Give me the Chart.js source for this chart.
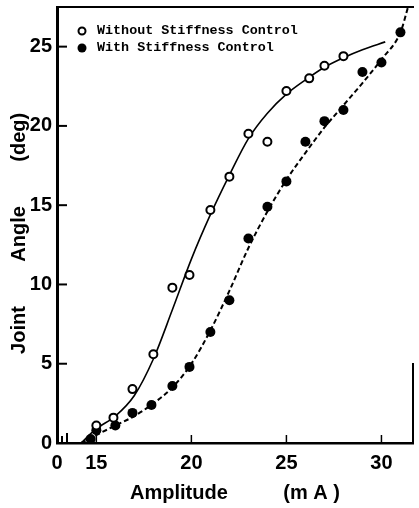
<!DOCTYPE html>
<html>
<head>
<meta charset="utf-8">
<script src="https://cdn.jsdelivr.net/npm/chart.js@4/dist/chart.umd.min.js"></script>
<style>
  body { margin: 0; background: #fff; }
  canvas { display: block; }
</style>
</head>
<body>
<canvas id="chart" width="419" height="508"></canvas>
<script>
const withoutX = [15, 15.9, 16.9, 18, 19, 19.9, 21, 22, 23, 24, 25, 26.2, 27, 28];
const withoutY = [1.1, 1.6, 3.4, 5.6, 9.8, 10.6, 14.7, 16.8, 19.5, 19.0, 22.2, 23.0, 23.8, 24.4];

const withX = [14.7, 15, 16, 16.9, 17.9, 19, 19.9, 21, 22, 23, 24, 25, 26, 27, 28, 29, 30, 31];
const withY = [0.25, 0.8, 1.1, 1.9, 2.4, 3.6, 4.8, 7.0, 9.0, 12.9, 14.9, 16.5, 19.0, 20.3, 21.0, 23.4, 24.0, 25.9];

// fitted curves as drawn on the figure
const fitWithoutX = [14.2, 15, 16, 17, 18, 19, 20, 21, 22, 23, 24, 25, 26, 27, 28, 29, 30.2];
const fitWithoutY = [0, 0.9, 1.7, 3.0, 5.3, 8.4, 11.6, 14.4, 16.9, 19.2, 20.8, 22.0, 22.9, 23.7, 24.3, 24.8, 25.3];

const fitWithX = [14.2, 15, 16, 17, 18, 19, 20, 21, 22, 23, 24, 25, 26, 27, 28, 29, 30, 31, 31.4];
const fitWithY = [0, 0.5, 1.1, 1.7, 2.5, 3.5, 5.0, 7.1, 9.6, 12.3, 14.6, 16.6, 18.3, 19.9, 21.3, 22.7, 24.2, 25.9, 27.5];

const legendLabels = ['Without Stiffness Control', 'With Stiffness Control'];
const xMin = 12.93, xMax = 31.66;
const xTicks = [15, 20, 25, 30];
const yMin = 0, yMax = 27.5;

const toPoints = (xs, ys) => xs.map((x, i) => ({ x: x, y: ys[i] }));

const tickFont = { family: 'Liberation Sans', size: 20, weight: 'bold' };
const titleFont = { family: 'Liberation Sans', size: 20, weight: 'bold' };

// inward tick marks, top frame, partial right frame, axis break, legend
const framePlugin = {
  id: 'frame',
  afterDraw(chart) {
    const ctx = chart.ctx;
    const { left, right, top, bottom } = chart.chartArea;
    const xs = chart.scales.x, ys = chart.scales.y;
    ctx.save();
    ctx.strokeStyle = '#000';
    ctx.lineWidth = 2;
    ys.ticks.forEach(t => {
      if (t.value === yMin) return;
      const py = ys.getPixelForValue(t.value);
      ctx.beginPath();
      ctx.moveTo(left, py);
      ctx.lineTo(left + 10, py);
      ctx.stroke();
    });
    ctx.lineWidth = 1.5;
    xTicks.forEach(v => {
      const px = xs.getPixelForValue(v);
      ctx.beginPath();
      ctx.moveTo(px, bottom);
      ctx.lineTo(px, bottom - 8);
      ctx.stroke();
    });
    // top frame
    ctx.lineWidth = 2;
    ctx.beginPath();
    ctx.moveTo(left, top);
    ctx.lineTo(right + 1, top);
    ctx.stroke();
    // partial right frame
    ctx.beginPath();
    ctx.moveTo(right, ys.getPixelForValue(5.05));
    ctx.lineTo(right, bottom);
    ctx.stroke();
    // axis break marks
    [5, 10].forEach((dx, i) => {
      ctx.beginPath();
      ctx.moveTo(left + dx, bottom - 7 - i * 3);
      ctx.lineTo(left + dx, bottom + 1);
      ctx.stroke();
    });

    // legend
    ctx.font = 'bold 13.4px "Liberation Mono"';
    ctx.textBaseline = 'middle';
    ctx.fillStyle = '#000';
    const lx = left + 25;
    const rows = [top + 24, top + 41];
    ctx.beginPath();
    ctx.arc(lx, rows[0], 3.5, 0, Math.PI * 2);
    ctx.lineWidth = 2;
    ctx.stroke();
    ctx.beginPath();
    ctx.arc(lx, rows[1], 4.5, 0, Math.PI * 2);
    ctx.fill();
    ctx.fillText(legendLabels[0], lx + 15, rows[0]);
    ctx.fillText(legendLabels[1], lx + 15, rows[1]);
    ctx.restore();
  }
};

new Chart(document.getElementById('chart'), {
  type: 'scatter',
  data: {
    datasets: [
      {
        label: legendLabels[0],
        data: toPoints(withoutX, withoutY),
        pointRadius: 4,
        pointBackgroundColor: '#fff',
        pointBorderColor: '#000',
        pointBorderWidth: 2,
        showLine: false,
        order: 0
      },
      {
        label: legendLabels[1],
        data: toPoints(withX, withY),
        pointRadius: 5,
        pointBackgroundColor: '#000',
        pointBorderColor: '#000',
        pointBorderWidth: 0,
        showLine: false,
        order: 0
      },
      {
        label: 'fit without',
        data: toPoints(fitWithoutX, fitWithoutY),
        showLine: true,
        pointRadius: 0,
        borderColor: '#000',
        borderWidth: 1.6,
        cubicInterpolationMode: 'monotone',
        order: 1
      },
      {
        label: 'fit with',
        data: toPoints(fitWithX, fitWithY),
        showLine: true,
        pointRadius: 0,
        borderColor: '#000',
        borderWidth: 2,
        borderDash: [5, 3],
        cubicInterpolationMode: 'monotone',
        order: 1
      }
    ]
  },
  options: {
    responsive: false,
    animation: false,
    layout: { padding: { top: 7, right: 1, left: 0, bottom: 0 } },
    plugins: {
      legend: { display: false },
      tooltip: { enabled: false }
    },
    scales: {
      x: {
        type: 'linear',
        min: xMin,
        max: xMax,
        afterBuildTicks: (scale) => {
          scale.ticks = [xMin, ...xTicks].map(v => ({ value: v }));
        },
        afterFit: (scale) => {
          scale.height = 65;
          scale.paddingLeft = 0;
          scale.paddingRight = 0;
        },
        grid: { display: false, drawTicks: false },
        border: { display: true, color: '#000', width: 2.5 },
        ticks: {
          color: '#000',
          font: tickFont,
          padding: 8,
          maxRotation: 0,
          autoSkip: false,
          callback: (v) => (v === xMin ? '0' : v)
        },
        title: {
          display: true,
          text: 'Amplitude          (m A )',
          color: '#000',
          font: titleFont,
          padding: 3
        }
      },
      y: {
        type: 'linear',
        min: yMin,
        max: yMax,
        afterFit: (scale) => {
          scale.width = 57;
          scale.paddingTop = 0;
          scale.paddingBottom = 0;
        },
        grid: { display: false, drawTicks: false },
        border: { display: true, color: '#000', width: 3 },
        ticks: {
          color: '#000',
          font: tickFont,
          padding: 5,
          stepSize: 5,
          includeBounds: false
        },
        title: {
          display: true,
          text: 'Joint        Angle        (deg)   ',
          color: '#000',
          font: titleFont,
          padding: 7
        }
      }
    }
  },
  plugins: [framePlugin]
});
</script>
</body>
</html>
